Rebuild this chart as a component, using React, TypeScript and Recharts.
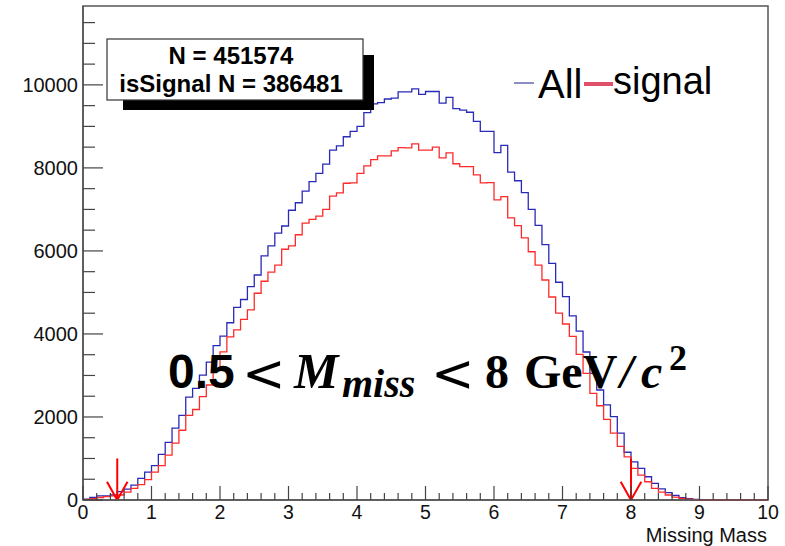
import { Legend, Line, LineChart, ReferenceArea, ReferenceLine, XAxis, YAxis } from 'recharts'

const FONT = '"Liberation Sans", Arial, Helvetica, sans-serif'
const SERIF = '"Liberation Serif", "Times New Roman", serif'
const MATH = '"DejaVu Sans", sans-serif'

// bin contents, 100 bins of width 0.1 from 0 to 10
const ALL = [
  20, 60, 100, 100, 120, 200, 260, 360, 520, 670,
  830, 1100, 1390, 1730, 2040, 2480, 2690, 3010, 3320, 3720,
  3950, 4270, 4640, 4830, 5140, 5420, 5880, 6120, 6430, 6600,
  6980, 7160, 7440, 7670, 7870, 8090, 8430, 8530, 8750, 8880,
  9000, 9330, 9540, 9570, 9660, 9680, 9830, 9830, 9905, 9770,
  9840, 9840, 9560, 9700, 9430, 9390, 9340, 9120, 8880, 8880,
  8370, 8545, 7900, 7690, 7405, 7000, 6615, 6150, 5700, 5245,
  4900, 4435, 4070, 3565, 3050, 2650, 2290, 2010, 1610, 1150,
  920, 760, 560, 400, 270, 180, 110, 55, 35, 15,
  0, 0, 0, 0, 0, 0, 0, 0, 0, 0,
]

const SIGNAL = [
  10, 30, 60, 80, 100, 120, 190, 280, 370, 490,
  670, 830, 1080, 1370, 1680, 2040, 2180, 2490, 2770, 3150,
  3570, 3930, 4100, 4350, 4580, 4980, 5270, 5490, 5660, 6040,
  6120, 6390, 6670, 6760, 6840, 7000, 7320, 7400, 7630, 7640,
  7870, 8050, 8200, 8290, 8290, 8410, 8490, 8480, 8580, 8430,
  8430, 8500, 8240, 8360, 8100, 8030, 8030, 7830, 7640, 7645,
  7230, 7310, 6795, 6610, 6315, 5980, 5660, 5300, 4890, 4500,
  4240, 3940, 3510, 3050, 2570, 2270, 1940, 1610, 1290, 1040,
  760, 600, 440, 280, 190, 120, 70, 40, 20, 10,
  0, 0, 0, 0, 0, 0, 0, 0, 0, 0,
]

const X_TICKS = [
  0, 0.2, 0.4, 0.6, 0.8, 1, 1.2, 1.4, 1.6, 1.8, 2, 2.2, 2.4, 2.6, 2.8, 3, 3.2, 3.4, 3.6, 3.8,
  4, 4.2, 4.4, 4.6, 4.8, 5, 5.2, 5.4, 5.6, 5.8, 6, 6.2, 6.4, 6.6, 6.8, 7, 7.2, 7.4, 7.6, 7.8,
  8, 8.2, 8.4, 8.6, 8.8, 9, 9.2, 9.4, 9.6, 9.8, 10,
]
const Y_TICKS = [
  0, 500, 1000, 1500, 2000, 2500, 3000, 3500, 4000, 4500, 5000, 5500,
  6000, 6500, 7000, 7500, 8000, 8500, 9000, 9500, 10000, 10500, 11000, 11500,
]
const Y_MAX = 11900

const CUTS = [0.5, 8] // GeV/c^2, drawn as red arrows
const STATS = ['N = 451574', 'isSignal N = 386481']
const AXIS_TITLE = 'Missing Mass'

const rows = ALL.map((v, i) => ({ x: i / 10, all: v, signal: SIGNAL[i] }))
rows.push({ x: 10, all: ALL[ALL.length - 1], signal: SIGNAL[SIGNAL.length - 1] })

function YTick({ x, y, payload }: any) {
  const v = payload.value as number
  const major = v % 2000 === 0
  const ax = x + 5
  return (
    <g>
      <line x1={ax} x2={ax + (major ? 20 : 12)} y1={y} y2={y} stroke="#444" strokeWidth={1.2} />
      {major && (
        <text x={x} y={y} dy="0.36em" textAnchor="end" fontSize={20} fontFamily={FONT} fill="#111">
          {v}
        </text>
      )}
    </g>
  )
}

function XTick({ x, y, payload }: any) {
  const v = payload.value as number
  const major = Math.abs(v - Math.round(v)) < 1e-6
  return (
    <g>
      <line x1={x} x2={x} y1={y} y2={y - (major ? 14 : 7)} stroke="#444" strokeWidth={1.2} />
      {major && (
        <text x={x} y={y + 19} textAnchor="middle" fontSize={19.5} fontFamily={FONT} fill="#111">
          {Math.round(v)}
        </text>
      )}
    </g>
  )
}

function LegendBox() {
  return (
    <svg width={220} height={50} style={{ overflow: 'visible' }}>
      <line x1={4} x2={24} y1={23} y2={23} stroke="#1a1a90" strokeWidth={1} />
      <text x={28} y={38} fontSize={40} fontFamily={FONT} fill="#000">All</text>
      <line x1={74} x2={103} y1={24} y2={24} stroke="#e0506a" strokeWidth={4} />
      <text x={103} y={34} fontSize={38} fontFamily={FONT} fill="#000">signal</text>
    </svg>
  )
}

export default function App() {
  return (
    <div style={{ position: 'absolute', left: 0, top: 0, width: 785, height: 546, background: '#fff' }}>
      <LineChart width={785} height={546} data={rows} margin={{ top: 6, right: 17, left: 0, bottom: 0 }}>
        <XAxis
          dataKey="x"
          type="number"
          domain={[0, 10]}
          ticks={X_TICKS}
          interval={0}
          height={46}
          tickSize={0}
          tickMargin={0}
          tickLine={false}
          tick={<XTick />}
          axisLine={{ stroke: '#555', strokeWidth: 1.5 }}
        />
        <YAxis
          type="number"
          domain={[0, Y_MAX]}
          ticks={Y_TICKS}
          interval={0}
          width={83}
          tickSize={0}
          tickMargin={5}
          tickLine={false}
          tick={<YTick />}
          axisLine={{ stroke: '#555', strokeWidth: 1.5 }}
        />
        <ReferenceArea x1={0} x2={10} y1={0} y2={Y_MAX} fill="none" stroke="#555" strokeWidth={1.5} />
        <Legend
          layout="horizontal"
          verticalAlign="middle"
          align="center"
          content={<LegendBox />}
          wrapperStyle={{ left: 510, top: 60, width: 220, height: 50 }}
        />
        <Line
          name="All"
          dataKey="all"
          type="stepAfter"
          stroke="#2a2ab8"
          strokeWidth={1.3}
          dot={false}
          activeDot={false}
          isAnimationActive={false}
        />
        <Line
          name="signal"
          dataKey="signal"
          type="stepAfter"
          stroke="#ff2a2a"
          strokeWidth={1.3}
          dot={false}
          activeDot={false}
          isAnimationActive={false}
        />
        {CUTS.map((c) => (
          <ReferenceLine
            key={`v${c}`}
            segment={[{ x: c, y: 1000 }, { x: c, y: 0 }]}
            stroke="#ff0000"
            strokeWidth={2}
          />
        ))}
        {CUTS.map((c) => (
          <ReferenceLine
            key={`l${c}`}
            segment={[{ x: c - 0.15, y: 440 }, { x: c, y: 0 }]}
            stroke="#ff0000"
            strokeWidth={2}
          />
        ))}
        {CUTS.map((c) => (
          <ReferenceLine
            key={`r${c}`}
            segment={[{ x: c + 0.15, y: 440 }, { x: c, y: 0 }]}
            stroke="#ff0000"
            strokeWidth={2}
          />
        ))}
      </LineChart>
      <svg
        width={785}
        height={546}
        style={{ position: 'absolute', left: 0, top: 0, pointerEvents: 'none' }}
      >
        <rect x={123} y={55} width={251} height={55} fill="#000" />
        <rect x={107} y={39} width={256} height={61} fill="#fff" stroke="#333" strokeWidth={1.2} />
        {STATS.map((s, i) => (
          <text
            key={s}
            x={231}
            y={64 + i * 28}
            textAnchor="middle"
            fontSize={24}
            fontWeight="bold"
            fontFamily={FONT}
            fill="#000"
          >
            {s}
          </text>
        ))}
        <text x={767} y={542} textAnchor="end" fontSize={20} fontFamily={FONT} fill="#111">
          {AXIS_TITLE}
        </text>
        <g fill="#000">
          <text x={168} y={388} fontSize={48} fontWeight="bold" fontFamily={FONT}>0.5</text>
          <text x={242} y={391} fontSize={52} fontFamily={MATH}>&lt;</text>
          <text x={294} y={388} fontSize={50} fontWeight="bold" fontStyle="italic" fontFamily={SERIF}>M</text>
          <text x={342} y={397} fontSize={40} fontWeight="bold" fontStyle="italic" fontFamily={SERIF}>miss</text>
          <text x={431} y={391} fontSize={52} fontFamily={MATH}>&lt;</text>
          <text x={485} y={388} fontSize={48} fontWeight="bold" fontFamily={SERIF}>8</text>
          <text x={524} y={388} fontSize={48} fontWeight="bold" fontFamily={SERIF}>GeV</text>
          <text x={620} y={388} fontSize={48} fontWeight="bold" fontStyle="italic" fontFamily={SERIF}>/</text>
          <text x={641} y={388} fontSize={48} fontWeight="bold" fontStyle="italic" fontFamily={SERIF}>c</text>
          <text x={669} y={370} fontSize={36} fontWeight="bold" fontFamily={SERIF}>2</text>
        </g>
      </svg>
    </div>
  )
}
